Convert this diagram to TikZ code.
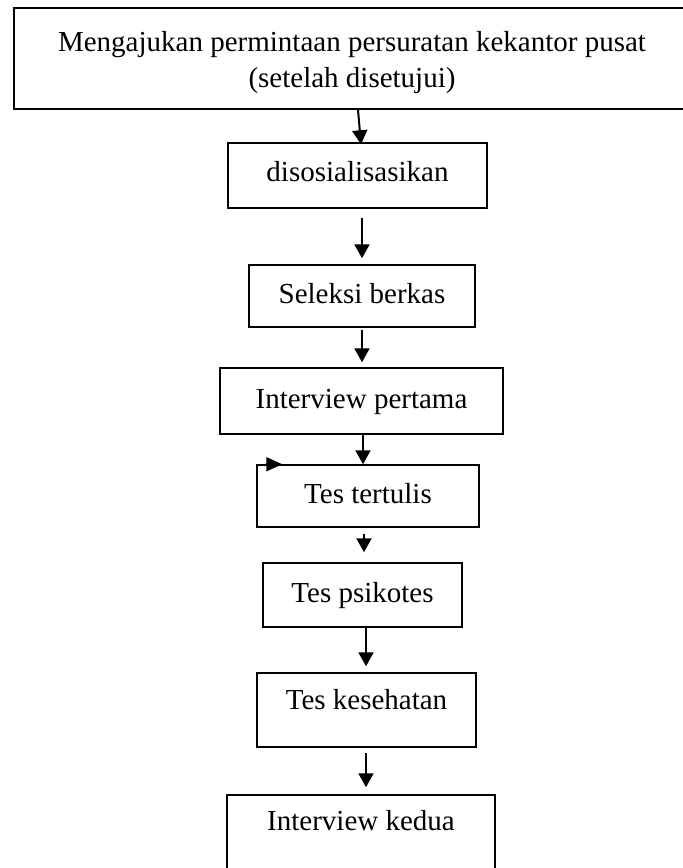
\documentclass[tikz,border=0pt]{standalone}
\usepackage{fontspec}
\setmainfont{Liberation Serif}
\usetikzlibrary{arrows.meta}

\tikzset{
  box/.style={draw, rectangle, line width=1.5pt, inner sep=0pt,
    font=\fontsize{29}{36}\selectfont},
  oneline/.style={text height=20pt, text depth=#1},
  oneline/.default=6pt,
  arr/.style={line width=2pt, -{Triangle[length=14pt,width=15pt]}},
}

\begin{document}
\begin{tikzpicture}[x=1pt,y=-1pt]
    \useasboundingbox (0,0) rectangle (683,868);
    \clip (0,0) rectangle (683,868);

    \node[box, align=center, minimum width=676pt, minimum height=101pt] (ajukan)    at (352,58.5)
        {\rule{0pt}{28pt}Mengajukan permintaan persuratan kekantor pusat\\(setelah disetujui)};
    \node[box, oneline=9pt,  minimum width=259pt, minimum height=65pt]  (sosial)    at (357.5,175.5) {disosialisasikan};
    \node[box, oneline,      minimum width=226pt, minimum height=62pt]  (seleksi)   at (362,296)     {Seleksi berkas};
    \node[box, oneline,      minimum width=283pt, minimum height=66pt]  (interviewa) at (361.5,401)  {Interview pertama};
    \node[box, oneline,      minimum width=222pt, minimum height=62pt]  (tertulis)  at (368,496)     {Tes tertulis};
    \node[box, oneline,      minimum width=199pt, minimum height=64pt]  (psikotes)  at (362.5,595)   {Tes psikotes};
    \node[box, oneline=22pt, minimum width=219pt, minimum height=74pt]  (kesehatan) at (366.5,710)   {Tes kesehatan};
    \node[box, oneline=30pt, minimum width=268pt, minimum height=80pt]  (interviewb) at (361,835)    {Interview kedua};

    \draw[arr] ([xshift=6pt]ajukan.south) -- ([xshift=3.5pt,yshift=-2pt]sosial.north);
    \draw[arr, shorten <=9pt, shorten >=6pt] ([xshift=4.5pt]sosial.south) -- (seleksi.north);
    \draw[arr, shorten <=2pt, shorten >=5pt] (seleksi.south) -- ([xshift=.5pt]interviewa.north);
    \draw[arr] ([xshift=1.5pt]interviewa.south) -- ([xshift=-5pt]tertulis.north);
    \draw[arr, shorten <=6pt, shorten >=10pt] ([xshift=-4pt]tertulis.south) -- ([xshift=1.5pt]psikotes.north);
    \draw[arr, shorten >=6pt] ([xshift=3.5pt]psikotes.south) -- ([xshift=-.5pt]kesehatan.north);
    \draw[arr, shorten <=5pt, shorten >=7pt] ([xshift=-.5pt]kesehatan.south) -- ([xshift=5pt]interviewb.north);

    % stray tip on the top edge
    \draw[arr, -{Triangle[length=16pt,width=14pt]}] ([xshift=10pt]tertulis.north west) -- ([xshift=26pt]tertulis.north west);
\end{tikzpicture}
\end{document}
